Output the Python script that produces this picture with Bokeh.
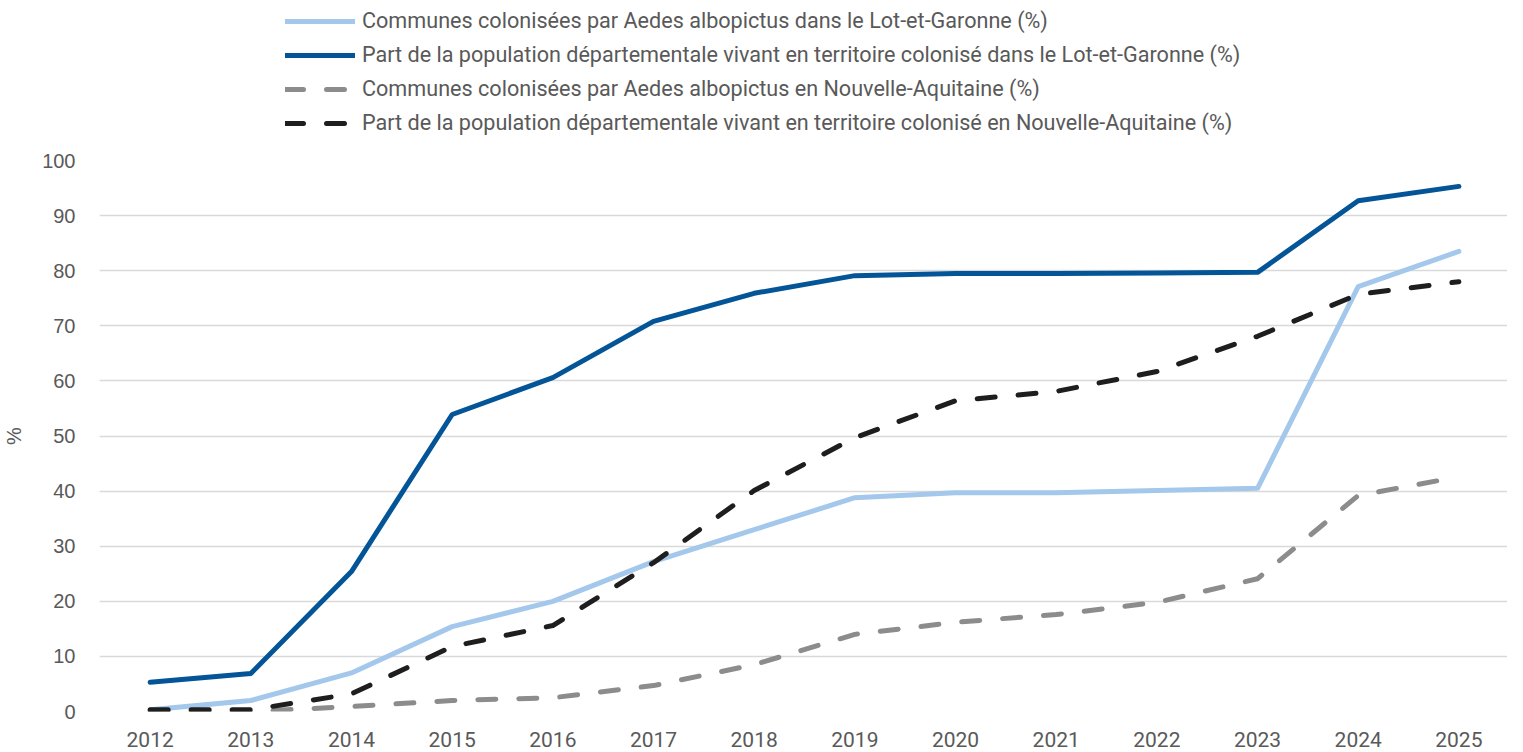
from bokeh.plotting import figure
from bokeh.layouts import column
from bokeh.models import Legend, LegendItem, FixedTicker, Range1d
from bokeh.embed import file_html
from bokeh.resources import INLINE

years = [2012, 2013, 2014, 2015, 2016, 2017, 2018, 2019, 2020, 2021, 2022, 2023, 2024, 2025]
communes_lg = [0.3, 2.0, 7.0, 15.4, 20.0, 27.2, 33.0, 38.8, 39.7, 39.7, 40.1, 40.5, 77.1, 83.5]
pop_lg = [5.3, 6.9, 25.4, 53.9, 60.6, 70.8, 75.9, 79.1, 79.5, 79.5, 79.6, 79.7, 92.7, 95.3]
communes_na = [0.0, 0.0, 0.9, 2.0, 2.5, 4.7, 8.5, 14.0, 16.2, 17.6, 19.8, 24.1, 39.2, 42.6]
pop_na = [0.3, 0.3, 3.2, 11.8, 15.6, 27.0, 40.1, 49.7, 56.4, 58.1, 61.7, 68.1, 75.7, 78.0]
y_ticks = [0, 10, 20, 30, 40, 50, 60, 70, 80, 90, 100]

labels = [
    "Communes colonisées par Aedes albopictus dans le Lot-et-Garonne (%)",
    "Part de la population départementale vivant en territoire colonisé dans le Lot-et-Garonne (%)",
    "Communes colonisées par Aedes albopictus en Nouvelle-Aquitaine (%)",
    "Part de la population départementale vivant en territoire colonisé en Nouvelle-Aquitaine (%)",
]
series = [communes_lg, pop_lg, communes_na, pop_na]
styles = [
    dict(line_color="#A3C8EB", line_width=5),
    dict(line_color="#035597", line_width=5),
    dict(line_color="#8C8C8C", line_width=5, line_dash="18 23"),
    dict(line_color="#1E1E1E", line_width=5, line_dash="18 23"),
]

TXT = "#595959"
TFONT = "Roboto"

# --- main chart ---
p = figure(width=1507, height=602, output_backend="svg", toolbar_location=None,
           x_range=Range1d(2011.497, 2025.483), y_range=Range1d(0, 100),
           min_border_left=89, min_border_right=0, min_border_top=12, min_border_bottom=39)
p.outline_line_color = None

p.xgrid.grid_line_color = None
p.ygrid.grid_line_color = "#D9D9D9"
p.ygrid.grid_line_width = 1.5
p.ygrid.ticker = FixedTicker(ticks=y_ticks)

p.xaxis.ticker = FixedTicker(ticks=years)
p.xaxis.axis_line_color = None
p.xaxis.major_tick_line_color = None
p.xaxis.minor_tick_line_color = None
p.xaxis.major_label_text_font = TFONT
p.xaxis.major_label_text_font_size = "21px"
p.xaxis.major_label_text_color = TXT
p.xaxis.major_label_standoff = 14

p.yaxis.ticker = FixedTicker(ticks=y_ticks)
p.yaxis.axis_line_color = None
p.yaxis.major_tick_line_color = None
p.yaxis.minor_tick_line_color = None
p.yaxis.major_label_text_font = "Liberation Sans"
p.yaxis.major_label_text_font_size = "20px"
p.yaxis.major_label_text_color = TXT
p.yaxis.major_label_standoff = 18
p.yaxis.axis_label = "%"
p.yaxis.axis_label_text_font = "Liberation Sans"
p.yaxis.axis_label_text_font_style = "normal"
p.yaxis.axis_label_text_font_size = "20px"
p.yaxis.axis_label_text_color = TXT
p.yaxis.axis_label_standoff = 14

for ys, st in zip(series, styles):
    p.line(years, ys, line_join="round", line_cap="round", **st)

# --- legend strip (same series, drawn out of view so only the legend shows) ---
lg = figure(width=1507, height=148, output_backend="svg", toolbar_location=None,
            x_range=Range1d(0, 1), y_range=Range1d(0, 1),
            min_border=0, x_axis_type=None, y_axis_type=None)
lg.outline_line_color = None
lg.xgrid.visible = False
lg.ygrid.visible = False
rs = [lg.line(years, ys, line_join="round", line_cap="round", **st) for ys, st in zip(series, styles)]

legend = Legend(items=[LegendItem(label=l, renderers=[r]) for l, r in zip(labels, rs)],
                location=(186, 13), orientation="vertical",
                glyph_width=70, glyph_height=20, label_height=20, spacing=9,
                label_standoff=7, padding=2, margin=0,
                border_line_color=None, background_fill_alpha=0,
                label_text_font=TFONT, label_text_font_size="21.6px", label_text_color=TXT)
lg.add_layout(legend, "center")

layout = column(lg, p, spacing=0)
open("out.html", "w").write(file_html(layout, INLINE))
